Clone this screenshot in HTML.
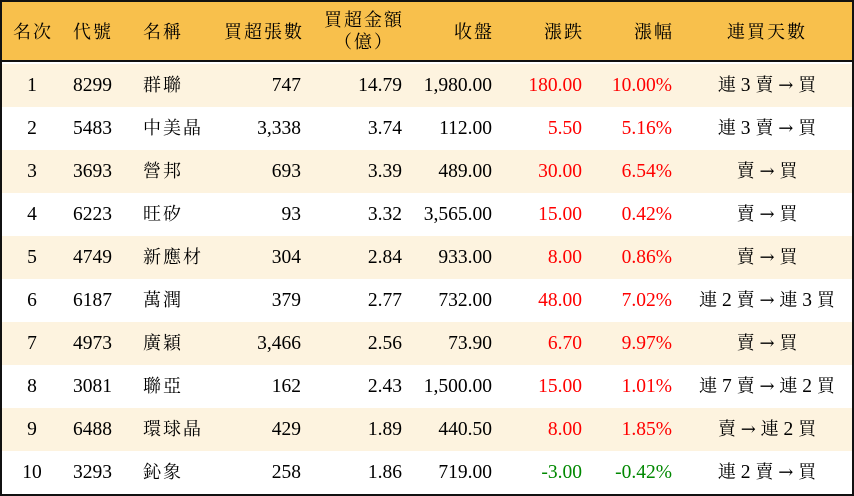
<!DOCTYPE html>
<html><head><meta charset="utf-8"><style>
*{margin:0;padding:0;box-sizing:border-box}
body{width:854px;height:496px;overflow:hidden;background:#fff;font-family:"Liberation Serif","Noto Serif CJK SC",serif;font-size:19.5px;color:#000}
#f{position:absolute;left:0;top:0;width:854px;height:496px;border:2px solid #111}
.hd{position:absolute;left:2px;top:2px;width:850px;height:60px;background:#f8c04c;border-bottom:2px solid #111}
.r{position:absolute;left:2px;width:850px;height:43px}
.c{position:absolute;top:0;line-height:43px;white-space:nowrap}
.hd .c{line-height:60px;letter-spacing:2px;font-size:18px}
.zh{letter-spacing:2px;font-size:18px}
.ar{font-family:"DejaVu Serif",serif;font-size:18px}
.red{color:#f00}.grn{color:#080}
</style></head><body>
<div id="f"></div>
<div class="hd">
<div class="c" style="left:11px">名次</div>
<div class="c" style="left:71px">代號</div>
<div class="c" style="left:141px">名稱</div>
<div class="c" style="right:548px">買超張數</div>
<div class="c" style="left:322px;line-height:22px;top:7px;text-align:center">買超金額<br>（億）</div>
<div class="c" style="right:358px">收盤</div>
<div class="c" style="right:268px">漲跌</div>
<div class="c" style="right:178px">漲幅</div>
<div class="c" style="left:725px">連買天數</div>
</div>
<div id="rows"></div>
<script>
var d=[["1","8299","群聯","747","14.79","1,980.00","180.00","10.00%","連 3 賣 → 買"],
["2","5483","中美晶","3,338","3.74","112.00","5.50","5.16%","連 3 賣 → 買"],
["3","3693","營邦","693","3.39","489.00","30.00","6.54%","賣 → 買"],
["4","6223","旺矽","93","3.32","3,565.00","15.00","0.42%","賣 → 買"],
["5","4749","新應材","304","2.84","933.00","8.00","0.86%","賣 → 買"],
["6","6187","萬潤","379","2.77","732.00","48.00","7.02%","連 2 賣 → 連 3 買"],
["7","4973","廣穎","3,466","2.56","73.90","6.70","9.97%","賣 → 買"],
["8","3081","聯亞","162","2.43","1,500.00","15.00","1.01%","連 7 賣 → 連 2 買"],
["9","6488","環球晶","429","1.89","440.50","8.00","1.85%","賣 → 連 2 買"],
["10","3293","鈊象","258","1.86","719.00","-3.00","-0.42%","連 2 賣 → 買"]];
var h="";
d.forEach(function(r,i){
var cl=r[6][0]=="-"?"grn":"red";
var t=r[8].split(" ").map(function(s){return s=="→"?'<span class="ar">→</span>':(/\d/.test(s)?s:'<span style="font-size:18px">'+s+'</span>');}).join("&nbsp;");
h+='<div class="r" style="top:'+(64+i*43)+'px;background:'+(i%2==0?'#fdf3df':'#fff')+'">'+
'<div class="c" style="left:0;width:60px;text-align:center">'+r[0]+'</div>'+
'<div class="c" style="left:71px">'+r[1]+'</div>'+
'<div class="c zh" style="left:141px">'+r[2]+'</div>'+
'<div class="c" style="right:551px">'+r[3]+'</div>'+
'<div class="c" style="right:450px">'+r[4]+'</div>'+
'<div class="c" style="right:360px">'+r[5]+'</div>'+
'<div class="c '+cl+'" style="right:270px">'+r[6]+'</div>'+
'<div class="c '+cl+'" style="right:180px">'+r[7]+'</div>'+
'<div class="c" style="left:680px;width:170px;text-align:center">'+t+'</div></div>';
});
document.getElementById("rows").innerHTML=h;
</script>
</body></html>
